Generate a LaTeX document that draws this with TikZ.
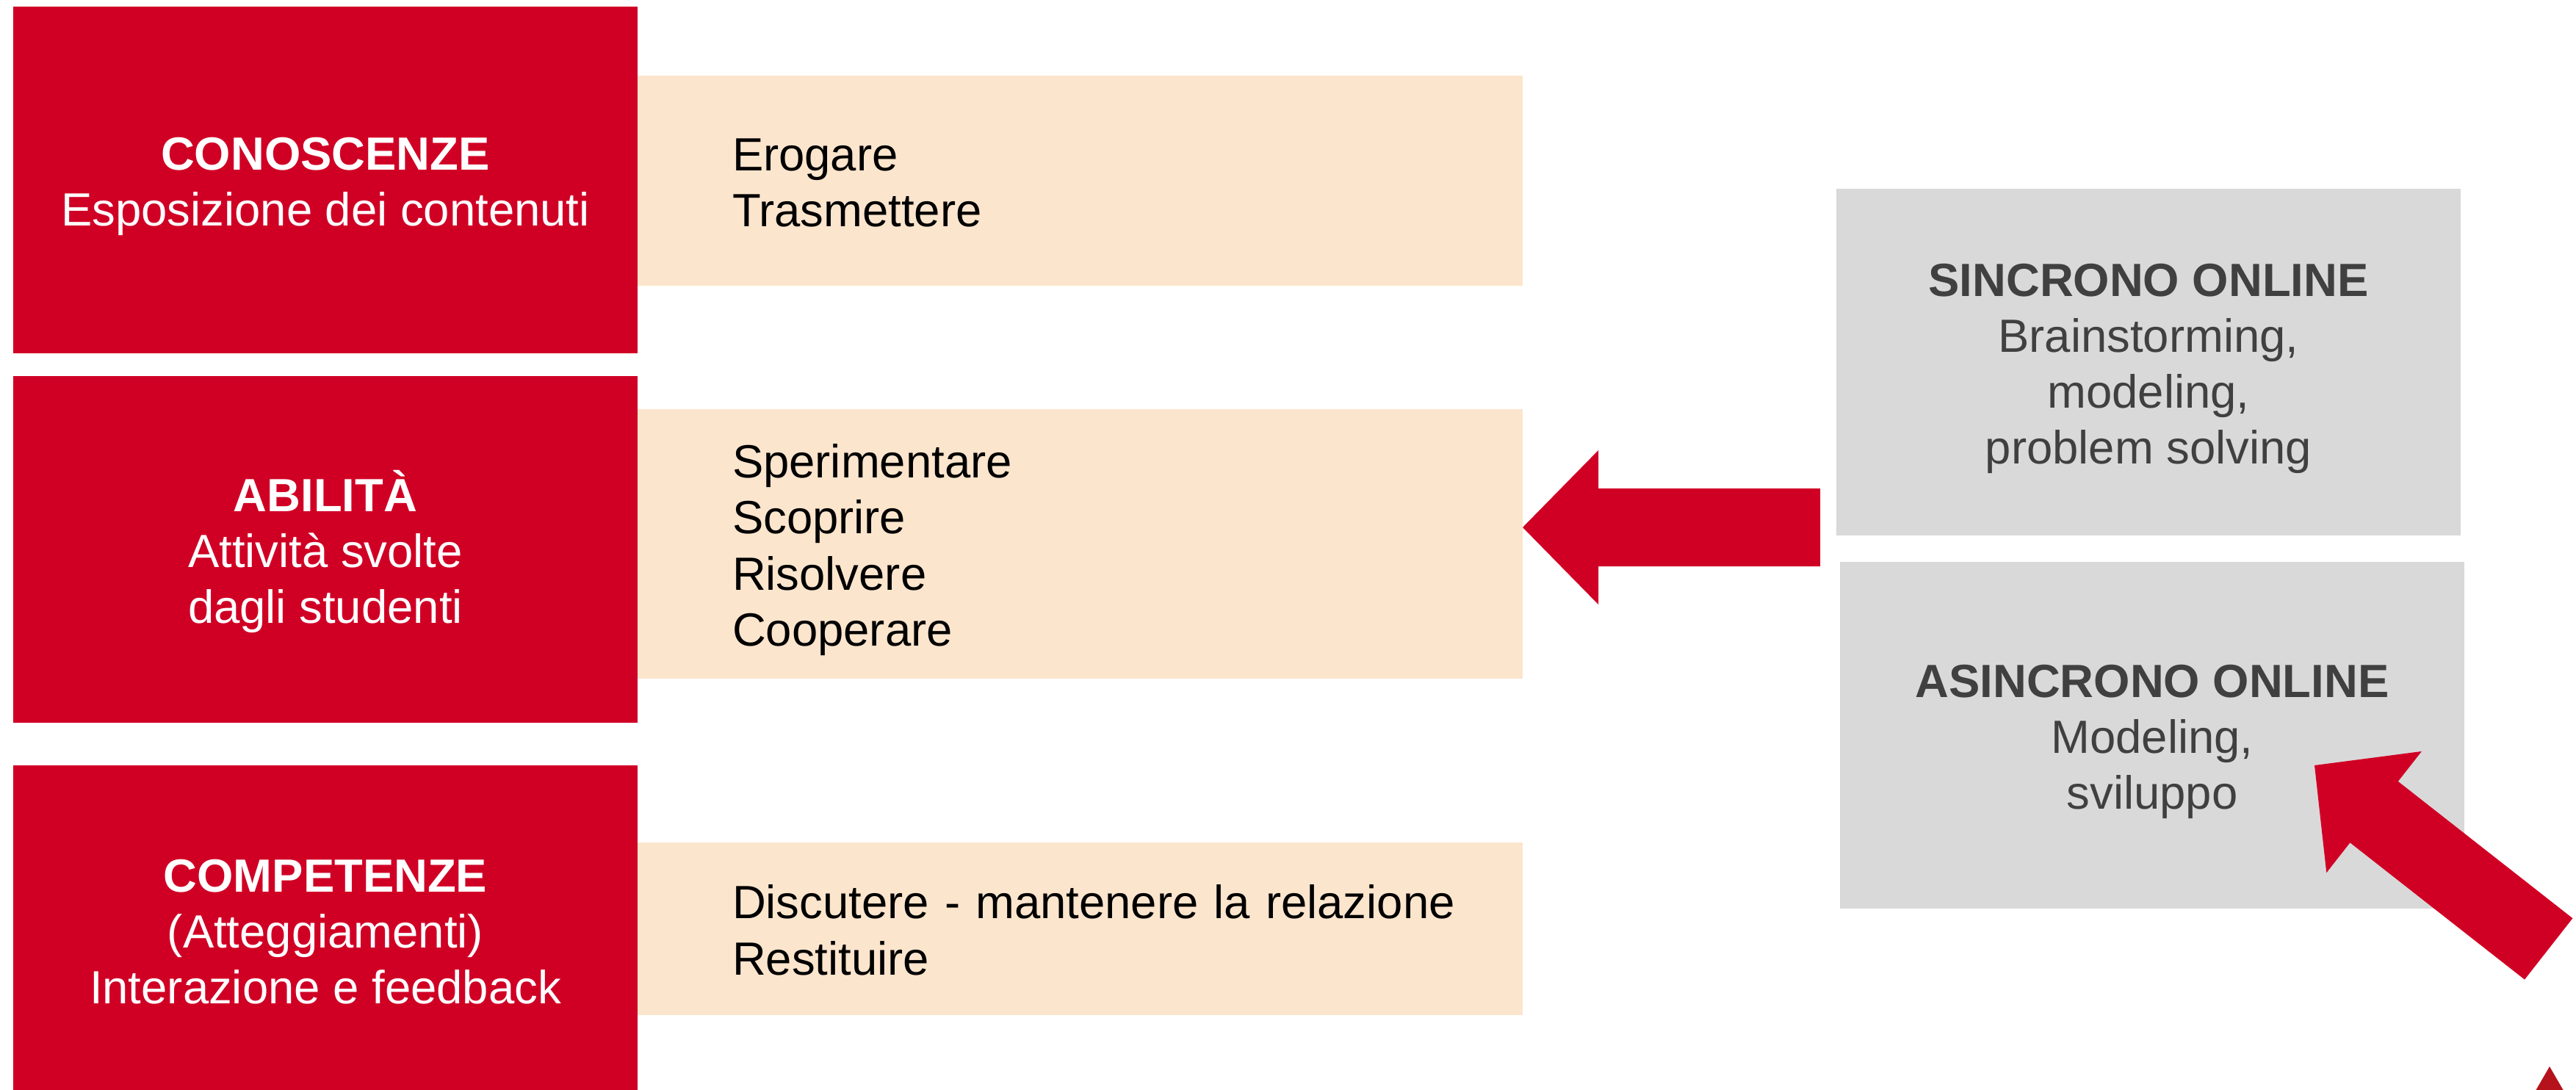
\documentclass[tikz,border=0pt]{standalone}
\usepackage{fontspec}
\setmainfont{Liberation Sans}
\usepackage{tikz}
\definecolor{boxRed}{RGB}{208,0,37}
\definecolor{darkRed}{RGB}{181,18,27}
\definecolor{boxPeach}{RGB}{252,229,205}
\definecolor{boxGray}{RGB}{217,217,217}
\definecolor{textGray}{RGB}{64,64,64}
\newcommand{\lineTop}{\rule{0pt}{1em}}
\newcommand{\lineBot}{\rule[-0.225em]{0pt}{0.225em}}
\tikzstyle{redBox}=[shape = rectangle, fill = boxRed, text = white, align = center, minimum width = 8.5cm, minimum height = 4.72cm, inner sep = 0pt]
\tikzstyle{peachBox}=[shape = rectangle, fill = boxPeach, text = black, align = left, text width = 9.47cm, inner xsep = 1.29cm, inner ysep = 0pt]
\tikzstyle{grayBox}=[shape = rectangle, fill = boxGray, text = textGray, align = center, minimum width = 8.5cm, minimum height = 4.72cm, inner sep = 0pt]
\newcommand{\blockArrow}[2]{\fill[boxRed, shift = {(#1)}, rotate = #2] (0,0) -- (1.03,1.05) -- (1.03,0.53) -- (4.05,0.53) -- (4.05,-0.53) -- (1.03,-0.53) -- (1.03,-1.05) -- cycle;}

\begin{document}
\begin{tikzpicture}[font = \fontsize{18.05}{21.7}\selectfont]
\useasboundingbox (0,0) rectangle (35.07,-14.83);
% left column
\node[redBox] (conoscenze) at (4.43,-2.45) {\lineTop\textbf{CONOSCENZE}\\Esposizione dei contenuti\lineBot};
\node[redBox] (abilita) at (4.43,-7.48) {\lineTop\textbf{ABILITÀ}\\Attività svolte\\dagli studenti\lineBot};
\node[redBox, minimum height = 4.48cm] (competenze) at (4.43,-12.66) {\lineTop\textbf{COMPETENZE}\\(Atteggiamenti)\\Interazione e feedback\lineBot};
% middle column
\node[peachBox, minimum height = 2.86cm] (erogare) at (14.705,-2.46) {\lineTop Erogare\\Trasmettere\lineBot};
\node[peachBox, minimum height = 3.67cm] (sperimentare) at (14.705,-7.405) {\lineTop Sperimentare\\Scoprire\\Risolvere\\Cooperare\lineBot};
\node[peachBox, minimum height = 2.35cm] (discutere) at (14.705,-12.645) {\lineTop\mbox{Discutere - mantenere la relazione}\\Restituire\lineBot};
% right column
\node[grayBox] (sincrono) at (29.25,-4.93) {\lineTop\textbf{SINCRONO ONLINE}\\Brainstorming,\\modeling,\\problem solving\lineBot};
\node[grayBox] (asincrono) at (29.30,-10.01) {\lineTop\textbf{ASINCRONO ONLINE}\\Modeling,\\sviluppo\lineBot};
% arrows
\coordinate (tipLeft) at (20.73,-7.18);
\coordinate (tipDiag) at (31.51,-10.42);
\blockArrow{tipLeft}{0}
\blockArrow{tipDiag}{-38.1}
\fill[darkRed] (34.71,-14.52) -- (34.93,-14.90) -- (34.49,-14.90) -- cycle;
\end{tikzpicture}
\end{document}
